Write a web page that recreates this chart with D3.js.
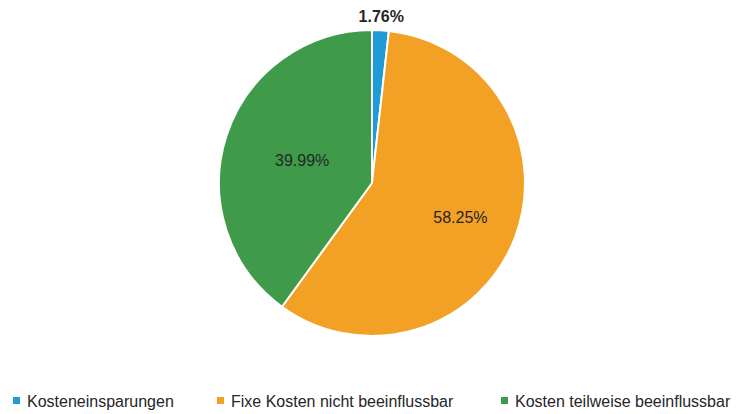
<!DOCTYPE html>
<html>
<head>
<meta charset="utf-8">
<script src="https://cdn.jsdelivr.net/npm/d3@7"></script>
<style>
  body { margin: 0; background: #fff; }
  text { font-family: "Liberation Sans", sans-serif; }
</style>
</head>
<body>
<div id="chart"></div>
<script>
var categories = ["Kosteneinsparungen", "Fixe Kosten nicht beeinflussbar", "Kosten teilweise beeinflussbar"];
var values = [1.76, 58.25, 39.99];
var labels = ["1.76%", "58.25%", "39.99%"];
var colors = ["#1f9bd7", "#f2a124", "#3f9b4a"];

var width = 741, height = 414;
var cx = 372, cy = 183, radius = 153;

var svg = d3.select("#chart")
    .append("svg")
    .attr("width", width)
    .attr("height", height);

var pie = d3.pie().sort(null).value(function(d){ return d; });
var arcs = pie(values);

var arc = d3.arc().innerRadius(0).outerRadius(radius);

var g = svg.append("g")
    .attr("transform", "translate(" + cx + "," + cy + ")");

g.selectAll("path")
    .data(arcs)
    .enter()
    .append("path")
    .attr("d", arc)
    .style("fill", function(d, i){ return colors[i]; })
    .style("stroke", "#fff")
    .style("stroke-width", 2);

// label distance from centre, as a share of the radius (first one sits outside)
var labelR = [radius + 14, radius * 0.62, radius * 0.48];

g.selectAll("text.lbl")
    .data(arcs)
    .enter()
    .append("text")
    .attr("class", "lbl")
    .attr("transform", function(d, i){
        var p = d3.arc().innerRadius(labelR[i]).outerRadius(labelR[i]).centroid(d);
        return "translate(" + p[0] + "," + p[1] + ")";
    })
    .attr("text-anchor", "middle")
    .attr("dy", "0.35em")
    .style("font-size", "16px")
    .style("fill", "#262626")
    .style("font-weight", function(d, i){ return i == 0 ? "bold" : "normal"; })
    .text(function(d, i){ return labels[i]; });

// legend
var legendX = [13, 217, 501];
var legend = svg.selectAll("g.leg")
    .data(categories)
    .enter()
    .append("g")
    .attr("class", "leg")
    .attr("transform", function(d, i){ return "translate(" + legendX[i] + ",401)"; });

legend.append("rect")
    .attr("x", 0).attr("y", -4)
    .attr("width", 7).attr("height", 7)
    .style("fill", function(d, i){ return colors[i]; });

legend.append("text")
    .attr("x", 14)
    .attr("dy", "0.35em")
    .style("font-size", "16px")
    .style("fill", "#262626")
    .text(function(d){ return d; });
</script>
</body>
</html>
